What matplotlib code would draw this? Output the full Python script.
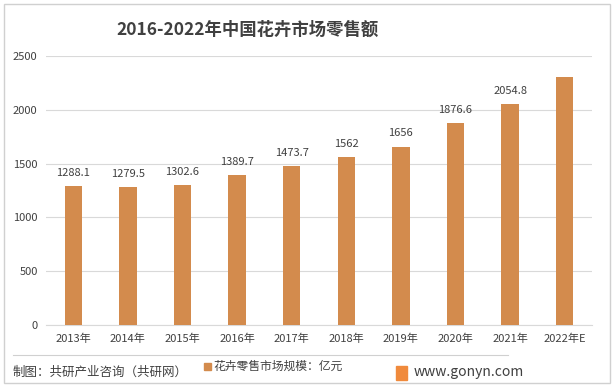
import matplotlib.pyplot as plt
from matplotlib.patches import Rectangle
from matplotlib.lines import Line2D

plt.rcParams['font.family'] = ['Noto Sans CJK SC', 'DejaVu Sans']

years = ["2013年", "2014年", "2015年", "2016年", "2017年", "2018年",
         "2019年", "2020年", "2021年", "2022年E"]
values = [1288.1, 1279.5, 1302.6, 1389.7, 1473.7, 1562, 1656, 1876.6, 2054.8, 2305]
labels = ["1288.1", "1279.5", "1302.6", "1389.7", "1473.7", "1562",
          "1656", "1876.6", "2054.8", ""]
yticks = [0, 500, 1000, 1500, 2000, 2500]

bar_color = "#D38B4D"
text_color = "#404040"

fig = plt.figure(figsize=(6.15, 3.87), dpi=100)
ax = fig.add_axes([46 / 615, 1 - 325 / 387, 546 / 615, 269 / 387])

x = range(len(years))
ax.bar(x, values, width=0.32, color=bar_color, zorder=3)
for i, (v, t) in enumerate(zip(values, labels)):
    if t:
        ax.annotate(t, (i, v), xytext=(0, 6), textcoords="offset points",
                    ha="center", va="bottom", fontsize=8, color=text_color)

ax.set_ylim(0, 2500)
ax.set_xlim(-0.5, len(years) - 0.5)
ax.set_yticks(yticks)
ax.set_yticklabels([str(t) for t in yticks], fontsize=8, color=text_color)
ax.set_xticks(list(x))
ax.set_xticklabels(years, fontsize=8, color=text_color)
ax.tick_params(length=0, pad=6)
ax.grid(axis="y", color="#D9D9D9", linewidth=0.8, zorder=0)
for s in ["top", "right", "left"]:
    ax.spines[s].set_visible(False)
ax.spines["bottom"].set_color("#D9D9D9")

# title
fig.text(248 / 615, 1 - 30 / 387, "2016-2022年中国花卉市场零售额", ha="center", va="center",
         fontsize=12.5, fontweight="bold", color=text_color)

# outer border
fig.patches.append(Rectangle((4 / 615, 4 / 387), 606 / 615, 379 / 387, transform=fig.transFigure,
                             fill=False, edgecolor="#D0D0D0", linewidth=1))
# footer line
fig.lines.append(Line2D([13 / 615, 508 / 615], [1 - 355 / 387] * 2, transform=fig.transFigure,
                        color="#D0D0D0", linewidth=0.8))

fig.text(13 / 615, 1 - 372 / 387, "制图：共研产业咨询（共研网）", ha="left", va="center",
         fontsize=9, color=text_color)
fig.patches.append(Rectangle((204 / 615, 1 - 370 / 387), 7 / 615, 7 / 387, transform=fig.transFigure,
                             color=bar_color))
fig.text(213 / 615, 1 - 366 / 387, "花卉零售市场规模：亿元", ha="left", va="center",
         fontsize=8.5, color=text_color)
fig.patches.append(Rectangle((396 / 615, 1 - 380 / 387), 11 / 615, 14 / 387, transform=fig.transFigure,
                             color="#F08A3C"))
fig.text(414 / 615, 1 - 372 / 387, "www.gonyn.com", ha="left", va="center",
         fontsize=10, color=text_color)

fig.savefig("out.png", dpi=100)
